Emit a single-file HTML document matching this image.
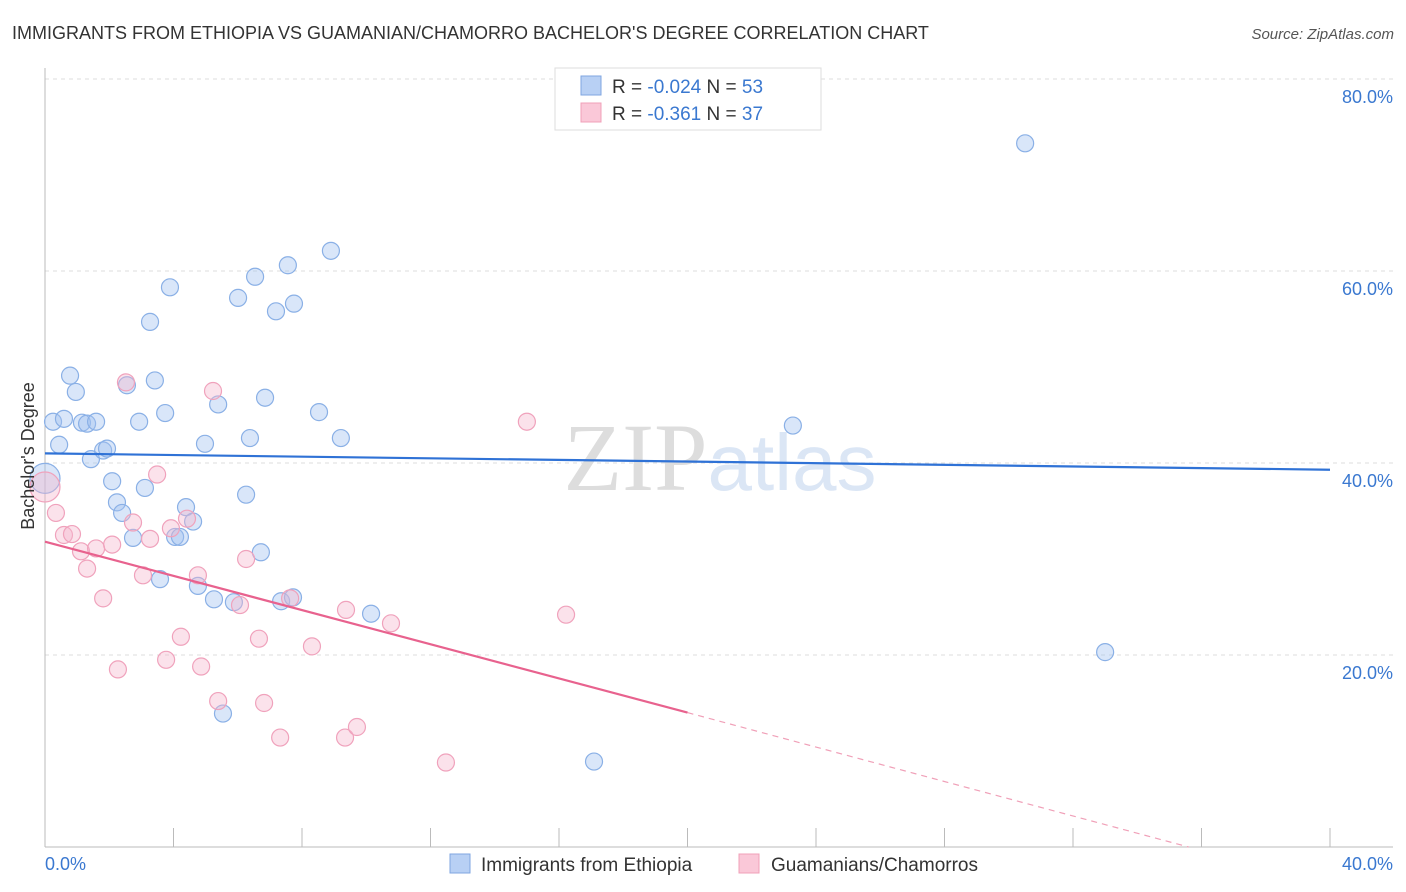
<!DOCTYPE html>
<html><head><meta charset="utf-8">
<style>
body{margin:0;background:#fff;font-family:"Liberation Sans",sans-serif;}
#wrap{position:relative;width:1406px;height:892px;overflow:hidden;}
</style></head>
<body>
<div id="wrap">
<svg id="svg" width="1406" height="892" xmlns="http://www.w3.org/2000/svg" font-family="Liberation Sans, sans-serif">
<text x="12" y="39" font-size="18" fill="#333">IMMIGRANTS FROM ETHIOPIA VS GUAMANIAN/CHAMORRO BACHELOR'S DEGREE CORRELATION CHART</text>
<text x="1394" y="39" font-size="15" fill="#555" text-anchor="end" font-style="italic">Source: ZipAtlas.com</text>
<text x="720" y="490" font-size="96" fill="#ddd" text-anchor="middle" font-family="Liberation Serif, serif">ZIP<tspan fill="#dbe6f5" font-family="Liberation Sans, sans-serif" font-size="80">atlas</tspan></text>
<g id="grid"></g>
<g id="axes"></g>
<g id="marks"></g>
<text transform="translate(34,456) rotate(-90)" font-size="18" fill="#333" text-anchor="middle">Bachelor's Degree</text>
<g>
<rect x="555" y="68" width="266" height="62" fill="#fff" stroke="#ddd"/>
<rect x="581" y="76" width="20" height="19" fill="#b8d0f4" stroke="#7fa6e0"/>
<rect x="581" y="103" width="20" height="19" fill="#fac8d8" stroke="#f0a0b8"/>
<text x="612" y="93" font-size="19" fill="#333">R = <tspan fill="#3a78d0">-0.024</tspan>   N = <tspan fill="#3a78d0">53</tspan></text>
<text x="612" y="120" font-size="19" fill="#333">R =  <tspan fill="#3a78d0">-0.361</tspan>   N = <tspan fill="#3a78d0">37</tspan></text>
</g>
<g>
<rect x="450" y="854" width="20" height="19" fill="#b8d0f4" stroke="#7fa6e0"/>
<text x="481" y="871" font-size="19" fill="#333">Immigrants from Ethiopia</text>
<rect x="739" y="854" width="20" height="19" fill="#fac8d8" stroke="#f0a0b8"/>
<text x="771" y="871" font-size="19" fill="#333">Guamanians/Chamorros</text>
</g>
</svg>
</div>
<script>
const blueX=[0,0.25,0.44,0.59,0.78,0.96,1.15,1.31,1.43,1.59,1.81,1.93,2.09,2.24,2.40,2.55,2.74,2.93,3.11,3.27,3.42,3.58,3.74,3.89,4.05,4.20,4.39,4.61,4.76,4.98,5.26,5.39,5.54,5.88,6.01,6.26,6.38,6.54,6.72,6.85,7.19,7.35,7.56,7.72,7.75,8.53,8.90,9.21,10.15,17.09,23.28,30.51,33.00];
const blueY=[38.4,44.3,41.9,44.6,49.1,47.4,44.2,44.1,40.4,44.3,41.3,41.5,38.1,35.9,34.8,48.1,32.2,44.3,37.4,54.7,48.6,27.9,45.2,58.3,32.3,32.3,35.4,33.9,27.2,42.0,25.8,46.1,13.9,25.5,57.2,36.7,42.6,59.4,30.7,46.8,55.8,25.6,60.6,26.0,56.6,45.3,62.1,42.6,24.3,8.9,43.9,73.3,20.3];
const pinkX=[0,0.34,0.59,0.84,1.12,1.31,1.59,1.81,2.09,2.27,2.52,2.74,3.05,3.27,3.49,3.77,3.92,4.23,4.42,4.76,4.86,5.23,5.39,6.07,6.26,6.66,6.82,7.32,7.63,8.31,9.34,9.37,9.71,10.77,12.48,15.00,16.22];
const pinkY=[37.5,34.8,32.5,32.6,30.8,29.0,31.1,25.9,31.5,18.5,48.4,33.8,28.3,32.1,38.8,19.5,33.2,21.9,34.2,28.3,18.8,47.5,15.2,25.2,30.0,21.7,15.0,11.4,25.9,20.9,11.4,24.7,12.5,23.3,8.8,44.3,24.2];
const blueTrendX=[0,40];
const blueTrendY=[41.0,39.3];
const pinkTrendX=[0,20,35.6];
const pinkTrendY=[31.8,14.0,0];
const yTicks=[20,40,60,80];
const yTickLabels=["20.0%","40.0%","60.0%","80.0%"];
const xTicks=[0,4,8,12,16,20,24,28,32,36,40];

const NS="http://www.w3.org/2000/svg";
const X=v=>45+v*32.125;
const Y=v=>847-v*9.6;
function mk(tag,attrs,parent){const e=document.createElementNS(NS,tag);for(const k in attrs)e.setAttribute(k,attrs[k]);parent.appendChild(e);return e;}
const grid=document.getElementById('grid'),axes=document.getElementById('axes'),marks=document.getElementById('marks');
yTicks.forEach((t,i)=>{
  const l=mk('line',{x1:45,x2:1393,y1:Y(t),y2:Y(t),stroke:'#ddd','stroke-dasharray':'4,4'},grid);
  
  
  const tx=mk('text',{x:1393,y:Y(t)+40-(t===80?22:(t===60?22:(t===40?24:24))),'font-size':18,fill:'#3a78d0','text-anchor':'end'},axes);
  tx.setAttribute('y',Y(t)+24);
  tx.textContent=yTickLabels[i];
  
  
});
const lx=mk('line',{x1:45,x2:45,y1:68,y2:847,stroke:'#bbb'},axes);


const bx=mk('line',{x1:45,x2:1393,y1:847,y2:847,stroke:'#bbb'},axes);


xTicks.forEach(t=>{
  const l=mk('line',{x1:X(t),x2:X(t),y1:828,y2:847,stroke:'#bbb'},axes);
  
  
});
const x0=mk('text',{x:45,y:870,'font-size':18,fill:'#3a78d0'},axes);x0.textContent="0.0%";


const x1=mk('text',{x:1393,y:870,'font-size':18,fill:'#3a78d0','text-anchor':'end'},axes);x1.textContent="40.0%";



function pts(xs,ys,fill,stroke,name){
  xs.forEach((x,i)=>{
    const r=(i===0&&x===0)?15:8.5;
    const c=mk('circle',{cx:X(x),cy:Y(ys[i]),r:r,fill:fill,stroke:stroke,'stroke-width':1.2},marks);
    
    
  });
}
pts(blueX,blueY,'rgba(160,192,240,0.4)','#8ab0e6','point-ethiopia');
pts(pinkX,pinkY,'rgba(246,182,204,0.4)','#f0a2bc','point-guamanian');

const bl=mk('line',{x1:X(blueTrendX[0]),y1:Y(blueTrendY[0]),x2:X(blueTrendX[1]),y2:Y(blueTrendY[1]),stroke:'#2f72d6','stroke-width':2.2},marks);


const pl=mk('line',{x1:X(pinkTrendX[0]),y1:Y(pinkTrendY[0]),x2:X(pinkTrendX[1]),y2:Y(pinkTrendY[1]),stroke:'#e8628e','stroke-width':2.2},marks);


const pd=mk('line',{x1:X(pinkTrendX[1]),y1:Y(pinkTrendY[1]),x2:X(pinkTrendX[2]),y2:Y(pinkTrendY[2]),stroke:'#f0a0b8','stroke-width':1.2,'stroke-dasharray':'6,5'},marks);


</script>
</body></html>
